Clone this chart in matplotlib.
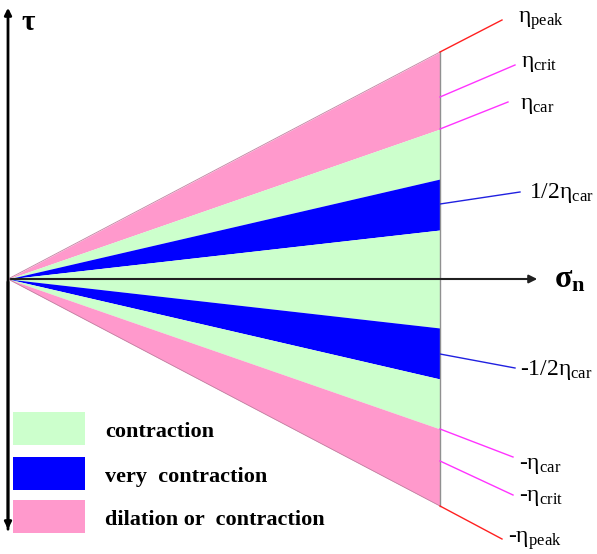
import matplotlib
matplotlib.use("Agg")
import matplotlib.pyplot as plt
import matplotlib.patches as mpatches
import numpy as np

plt.rcParams["font.family"] = ["Liberation Serif", "DejaVu Serif"]
plt.rcParams["mathtext.fontset"] = "custom"
plt.rcParams["mathtext.rm"] = "Liberation Serif"
plt.rcParams["mathtext.it"] = "Liberation Serif"

# ── 데이터 (원점 기준, 오른쪽 끝 x = 432 에서의 τ 값) ─────────
x_end = 432
eta_peak = 227
eta_crit = 182
eta_car = 150
blue_outer = 100
blue_inner = 49
half_car = 75

band_colors = {"pink": "#FF99CC", "green": "#CCFFCC", "blue": "#0000FF"}

# 라벨 텍스트, 경계선 시작 τ, 지시선 끝, 라벨 위치, 색
label_text = [r"$\mathregular{η_{peak}}$", r"$\mathregular{η_{crit}}$",
              r"$\mathregular{η_{car}}$", r"$\mathregular{1/2η_{car}}$",
              r"-$\mathregular{1/2η_{car}}$", r"-$\mathregular{η_{car}}$",
              r"-$\mathregular{η_{crit}}$", r"-$\mathregular{η_{peak}}$"]
label_at = [eta_peak, eta_crit, eta_car, half_car,
            -half_car, -eta_car, -eta_crit, -eta_peak]
leader_end_x = [494, 507, 500, 512, 507, 505, 505, 494]
leader_end_y = [259, 214, 177, 87, -89, -178, -216, -260]
text_x = [510, 513, 512, 521, 512, 511, 511, 500]
text_y = [258, 216, 174, 86, -91, -186, -218, -262]
leader_colors = ["#FF2020", "#FF33FF", "#FF33FF", "#2020E0",
                 "#2020E0", "#FF33FF", "#FF33FF", "#FF2020"]

legend_labels = ["contraction", "very  contraction", "dilation or  contraction"]
legend_colors = [band_colors["green"], band_colors["blue"], band_colors["pink"]]

fig = plt.figure(figsize=(5.97, 5.54), dpi=100, facecolor="white")
ax = fig.add_axes([0, 0, 1, 1])
ax.set_xlim(-8, 589)
ax.set_ylim(-275, 279)
ax.set_axis_off()

x = np.array([0, x_end])
s = x / x_end

def band(lo, hi, color):
    ax.fill_between(x, lo * s, hi * s, color=color, linewidth=0, zorder=1)

band(eta_car, eta_peak, band_colors["pink"])
band(blue_outer, eta_car, band_colors["green"])
band(blue_inner, blue_outer, band_colors["blue"])
band(-blue_inner, blue_inner, band_colors["green"])
band(-blue_outer, -blue_inner, band_colors["blue"])
band(-eta_car, -blue_outer, band_colors["green"])
band(-eta_peak, -eta_car, band_colors["pink"])

# 오른쪽 끝 경계
ax.plot([x_end, x_end], [-eta_peak, eta_peak], color="#909090", lw=1, zorder=2)
for sign in (1, -1):
    ax.plot([0, x_end], [0, sign * eta_peak], color="#C080A0", lw=0.6, zorder=2)

# 축
ax.annotate("", xy=(0, 274), xytext=(0, -253),
            arrowprops=dict(arrowstyle="-|>", color="black", lw=2,
                            mutation_scale=10), zorder=3)
ax.annotate("", xy=(0, -253), xytext=(0, 0),
            arrowprops=dict(arrowstyle="-|>", color="black", lw=2,
                            mutation_scale=10), zorder=3)
ax.annotate("", xy=(532, 0), xytext=(0, 0),
            arrowprops=dict(arrowstyle="-|>", color="#202020", lw=1.5,
                            mutation_scale=12), zorder=3)
ax.text(13, 257, "τ", fontsize=21, fontweight="bold", va="center", ha="left")
ax.text(546, -1, r"$\mathregular{\sigma_n}$", fontsize=23, fontweight="bold",
        va="center", ha="left")

# 라벨과 지시선
for txt, at, lx, ly, tx, ty, c in zip(label_text, label_at, leader_end_x,
                                       leader_end_y, text_x, text_y, leader_colors):
    ax.plot([x_end, lx], [at, ly], color=c, lw=1, zorder=2)
    ax.text(tx, ty, txt, fontsize=17, va="center", ha="left")

# 범례
box_y = [-150, -195, -238]
for lab, col, by in zip(legend_labels, legend_colors, box_y):
    ax.add_patch(mpatches.Rectangle((5, by - 16), 72, 33, facecolor=col,
                                    edgecolor="none", zorder=2))
    ax.text(97, by - 3, lab, fontsize=16, fontweight="bold", va="center", ha="left",
            family="Liberation Serif")

fig.savefig("out.png", dpi=100, facecolor="white")
